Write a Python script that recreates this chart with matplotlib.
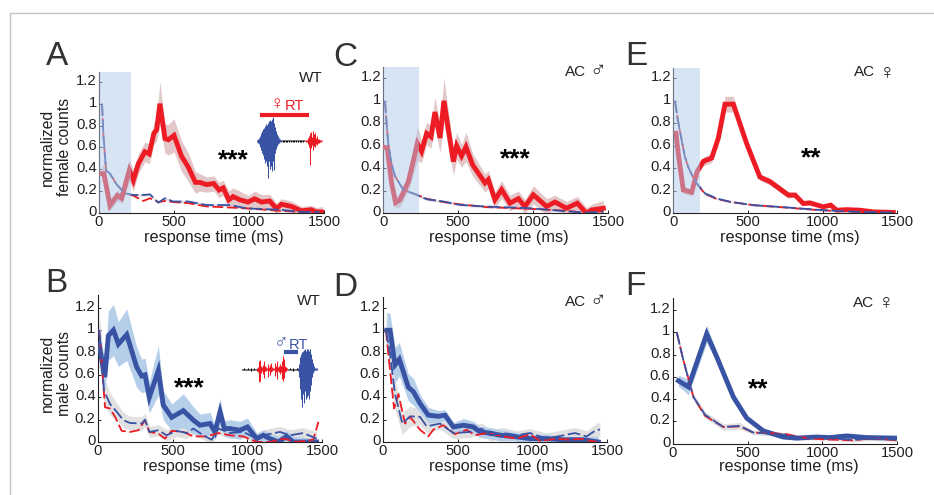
import matplotlib
matplotlib.use("Agg")
import matplotlib.pyplot as plt
from matplotlib.transforms import ScaledTranslation
import numpy as np

plt.rcParams['font.family'] = ['Liberation Sans', 'DejaVu Sans']

RED = "#ed1c24"
BLUE = "#3953a4"
INK = "#231f20"
W, H = 934, 495

# panel A
a_x = [18,33,73,122,151,202,229,262,306,335,366,384,406,440,462,500,550,595,643,672,717,765,800,828,865,894,940,994,1038,1083,1138,1183,1216,1283,1349,1415,1449,1489]
a_y = [.36,.36,.07,.16,.135,.39,.3,.45,.56,.54,.73,.76,1,.68,.67,.71,.52,.42,.28,.28,.26,.27,.21,.23,.12,.15,.12,.1,.13,.1,.11,.04,.08,.06,.02,.03,.01,.01]
a_err = [.07,.08,.05,.05,.05,.1,.1,.09,.09,.09,.1,.1,.2,.13,.14,.15,.14,.13,.1,.08,.07,.07,.07,.07,.08,.08,.08,.06,.07,.07,.06,.05,.05,.05,.04,.04,.04,.05]
a_dash_x = [20,30,47,73,118,173,228,295,340,395,440,495,595,717,872,983,1205,1350,1470]
a_blue = [1,.7,.39,.36,.26,.18,.165,.165,.17,.095,.135,.105,.105,.073,.073,.043,.03,.01,.01]
a_red = [1,.7,.39,.36,.26,.18,.16,.11,.135,.1,.11,.1,.09,.06,.05,.043,.02,.01,.01]

# panel B
b_x = [10,47,71,105,138,194,260,294,316,345,405,438,494,572,639,683,750,783,817,846,884,950,1000,1062,1106,1151,1206,1262,1306,1385,1462]
b_y = [.87,.58,.95,1,.875,.96,.67,.59,.6,.4,.64,.33,.22,.28,.195,.15,.165,.09,.27,.12,.12,.105,.135,.03,.06,.03,0,.05,0,0,0]
b_err = [.2,.12,.22,.23,.2,.23,.18,.15,.15,.14,.22,.13,.12,.15,.12,.1,.1,.06,.12,.07,.08,.08,.08,.05,.05,.05,.05,.05,.05,.04,.04]
b_blue_x = [10,42,82,127,171,216,294,316,345,405,460,527,594,639,705,761,806,884,973,1062,1106,1217,1284,1373,1462]
b_blue = [1,.46,.34,.27,.195,.17,.165,.2,.09,.105,.06,.1,.08,.12,.06,.02,.12,.08,.09,.03,.06,.09,.06,.08,.03]
b_grey = [.2,.12,.1,.08,.07,.06,.06,.06,.05,.05,.05,.05,.05,.05,.04,.04,.05,.05,.05,.05,.05,.05,.05,.05,.06]
b_red_x = [10,49,82,116,160,216,272,316,345,405,450,494,572,639,728,806,884,973,1062,1151,1240,1329,1440,1474]
b_red = [1,.31,.3,.225,.1,.09,.105,.195,.09,.075,.03,.1,.09,.05,.05,.08,.06,.05,0,0,.03,0,.02,.18]

# panel C
c_x = [11,27,55,82,111,167,227,255,289,318,344,378,404,467,489,522,551,596,678,700,744,789,844,900,944,1000,1089,1144,1222,1293,1355,1389,1467]
c_y = [.585,.58,.27,.095,.12,.28,.62,.55,.71,.68,.9,.67,1,.46,.6,.51,.59,.43,.27,.3,.12,.21,.09,.13,.06,.165,.06,.1,.045,.09,0,.03,.045]
c_err = [.02,.03,.05,.05,.06,.08,.15,.1,.1,.1,.13,.13,.2,.12,.12,.1,.13,.1,.08,.08,.07,.08,.07,.07,.06,.08,.07,.06,.06,.06,.05,.05,.07]
c_dash_x = [11,22,33,55,78,133,222,289,400,511,689,978,1200,1355,1467]
c_blue = [1,.8,.62,.44,.33,.21,.165,.125,.105,.075,.06,.045,.02,.005,.015]
c_red = [1,.8,.62,.44,.33,.21,.165,.13,.1,.08,.055,.04,.025,.005,.02]

# panel D
d_x = [27,49,82,111,171,205,249,305,372,416,472,539,605,650,717,784,873,984,1095,1206,1340,1440]
d_y = [1,1,.69,.74,.49,.45,.345,.24,.23,.24,.135,.15,.135,.09,.08,.06,.05,.03,.03,.02,.02,0]
d_err = [.16,.15,.16,.15,.12,.12,.08,.07,.05,.05,.04,.06,.05,.05,.05,.05,.04,.04,.04,.03,.03,.05]
d_blue_x = [22,49,82,131,183,249,294,383,472,583,661,717,806,895,984,1095,1284,1362,1429,1451]
d_blue = [1,.79,.43,.165,.23,.225,.14,.165,.08,.09,.12,.06,.08,.06,.08,.03,.08,.05,.11,.11]
d_grey = [.15,.15,.14,.1,.09,.07,.06,.05,.05,.05,.05,.05,.05,.04,.04,.05,.05,.05,.06,.06]
d_red_x = [22,49,76,105,149,183,249,305,338,405,483,561,617,695,806,895,984,1051,1162,1251,1318,1429]
d_red = [1,.64,.3,.43,.165,.225,.11,.05,.11,.15,.07,.11,.06,.08,.05,.03,.07,.01,.03,.02,.03,0]

# panel E
e_x = [18,33,67,123,160,201,257,301,346,402,491,580,647,770,815,870,915,1004,1054,1094,1161,1250,1339,1473]
e_y = [.71,.53,.205,.185,.37,.46,.49,.665,.97,.97,.62,.32,.28,.16,.16,.085,.09,.055,.07,.025,.03,.025,.01,.005]
e_err = [.02,.03,.03,.03,.03,.04,.04,.03,.07,.07,.03,.03,.03,.03,.02,.02,.02,.01,.01,.01,.01,.01,.01,.01]
e_dash_x = [11,33,56,78,100,128,156,212,290,379,536,759,982,1205,1473]
e_blue = [1,.81,.65,.5,.41,.33,.265,.175,.13,.1,.07,.05,.027,.012,.003]
e_red = [1,.81,.65,.5,.41,.33,.265,.17,.125,.1,.07,.048,.025,.012,.003]

# panel F
f_x = [38,105,227,294,405,494,605,739,828,961,1050,1162,1295,1495]
f_y = [.565,.51,.985,.78,.42,.23,.115,.06,.05,.06,.055,.07,.055,.05]
f_err = [.05,.07,.08,.04,.02,.015,.015,.015,.015,.015,.015,.015,.015,.015]
f_dash_x = [27,71,138,216,338,449,538,650,761,850,983,1206,1340,1495]
f_blue = [1,.75,.42,.26,.15,.16,.1,.09,.08,.055,.055,.035,.05,.035]
f_red = [1,.75,.42,.25,.15,.155,.1,.095,.085,.06,.04,.03,.05,.03]
f_grey = [.02,.02,.03,.03,.03,.03,.02,.02,.02,.02,.02,.02,.02,.02]

# oscillograms in the two insets, half-heights in pixels column by column
fem_blue_up = [1,2,3,5,8,10,12,13,15,17,16,18,20,21,20,22,24,18,14,10,7,5,3,2,1]
fem_blue_dn = [1,2,3,6,9,12,14,18,22,20,25,37,20,28,25,30,20,29,12,8,5,3,2,1,1]
fem_gap = [.5,.8,1,.5,.8,1.2,.5,.8,.5,1,.5,1.2,.8,.5,1,.5,1.2,.5,.8,1,.5,.8,.5]
fem_red_up = [.5,1,1,3,5,8,9,4,10,7,8,3,5,2,2,1,1,.5]
fem_red_dn = [.5,1,1,3,6,24,7,4,9,5,6,3,4,2,2,1,1,.5]
mal_lead = [.5,.8,1,.5,.8,.5,1,.8,.5,1.2,.5,.8,1,.5,.8]
mal_red_up = [1,2,8,9,3,2,4,8,3,2,1,5,2,4,6,2,1,1,6,3,8,2,3,5,3,8,13,10,3,2,1]
mal_red_dn = [2,3,13,12,4,2,5,9,2,2,1,8,2,6,3,2,1,1,7,3,10,2,3,5,3,10,12,9,3,2,1]
mal_gap = [.5,.8,1,.5,.8,1.2,.5,.8,.5,1]
mal_blue_up = [1,5,12,15,17,18,19,20,18,20,20,18,20,15,10,6,3,1,1,1]
mal_blue_dn = [2,8,20,30,38,25,34,22,30,28,26,30,22,16,8,4,2,1,1,1]


def draw_panel(box, top, solid, dashes, grey, color, band, shade=None):
    left, right, ytop, ybot = box
    ax = fig.add_axes([left / W, 1 - ybot / H, (right - left) / W, (ybot - ytop) / H])
    ax.patch.set_alpha(0)
    x, y, err = np.array(solid[0]), np.array(solid[1]), np.array(solid[2])
    bx, by = np.array(dashes[0]), np.array(dashes[1])
    ax.fill_between(bx, by - np.array(grey), by + np.array(grey), color="#dcdcdc", lw=0, alpha=0.85, zorder=1)
    ax.fill_between(x, y - err, y + err, color=band, lw=0, zorder=2)
    ax.plot(x, y, color=color, lw=3.5, solid_joinstyle="miter", zorder=3)
    ax.plot(dashes[2], dashes[3], color=RED, lw=1.3, dashes=(6, 2), zorder=4)
    ax.plot(bx, by, color=BLUE, lw=1.3, dashes=(7, 2), zorder=5)
    if shade:
        ax.axvspan(0, shade, color="#aecbeb", alpha=0.5, lw=0, zorder=6)
    ax.set_xlim(0, 1500)
    ax.set_ylim(0, top)
    ax.set_xticks([0, 500, 1000, 1500])
    ax.set_yticks([0, .2, .4, .6, .8, 1, 1.2])
    ax.set_yticklabels(["0", "0.2", "0.4", "0.6", "0.8", "1", "1.2"])
    ax.tick_params(direction="in", length=2, width=0.7, labelsize=10.6, pad=1.5, colors=INK)
    # the labels sit a little above their ticks in the original
    nudge = ScaledTranslation(0, 0.025, fig.dpi_scale_trans)
    for lab in ax.get_yticklabels():
        lab.set_transform(lab.get_transform() + nudge)
    for side in ("top", "right"):
        ax.spines[side].set_visible(False)
    for side in ("left", "bottom"):
        ax.spines[side].set_linewidth(0.8)
        ax.spines[side].set_color(INK)


def wave(over, x0, y0, up, dn, color):
    xs = x0 + np.arange(len(up))
    over.vlines(xs, y0 - np.array(up), y0 + np.array(dn), color=color, lw=0.75)
    return x0 + len(up)


fig = plt.figure(figsize=(W / 100, H / 100), dpi=100)

draw_panel((99, 324, 72, 213), 1.29, (a_x, a_y, a_err), (a_dash_x, a_blue, a_dash_x, a_red), .012, RED, "#e3c6c8", 213)
draw_panel((97.7, 322.3, 295, 442), 1.314, (b_x, b_y, b_err), (b_blue_x, b_blue, b_red_x, b_red), b_grey, BLUE, "#b5cfeb")
draw_panel((383.3, 608.3, 67.3, 213.3), 1.298, (c_x, c_y, c_err), (c_dash_x, c_blue, c_dash_x, c_red), .012, RED, "#e3c6c8", 238)
draw_panel((382.7, 607.3, 296.7, 442), 1.30, (d_x, d_y, d_err), (d_blue_x, d_blue, d_red_x, d_red), d_grey, BLUE, "#b5cfeb")
draw_panel((673.3, 897.3, 67.7, 213), 1.295, (e_x, e_y, e_err), (e_dash_x, e_blue, e_dash_x, e_red), .008, RED, "#e3c6c8", 176)
draw_panel((672.7, 897.3, 298, 443.7), 1.308, (f_x, f_y, f_err), (f_dash_x, f_blue, f_dash_x, f_red), f_grey, BLUE, "#b5cfeb")

# overlay in reference pixels for the frame, lettering and insets
over = fig.add_axes([0, 0, 1, 1])
over.set_xlim(0, W)
over.set_ylim(H, 0)
over.axis("off")
over.patch.set_alpha(0)

over.plot([9.5, 9.5, W], [H, 13, 13], color="#c4c4c4", lw=1)

for letter, lx, ly in [("A", 56.7, 56.7), ("B", 56, 283), ("C", 345, 57.7), ("D", 345, 287.7), ("E", 636.7, 56.7), ("F", 635.7, 286.7)]:
    over.text(lx, ly, letter, fontsize=24, color="#333333", ha="center", va="center")

for tx, ty in [(214, 237.5), (213, 466), (499, 237.5), (499, 466), (790, 237.5), (789, 466)]:
    over.text(tx, ty, "response time (ms)", fontsize=11.7, color=INK, ha="center", va="center")

over.text(56, 147, "normalized\nfemale counts", rotation=90, fontsize=11.3, color=INK, ha="center", va="center", multialignment="center")
over.text(56, 373, "normalized\nmale counts", rotation=90, fontsize=11.3, color=INK, ha="center", va="center", multialignment="center")

for tx, ty in [(310.7, 77.7), (309, 300.7)]:
    over.text(tx, ty, "WT", fontsize=11, color=INK, ha="center", va="center")

for label, tx, ty, sx in [("♂", 576, 71.7, 598), ("♂", 576, 302, 598), ("♀", 865, 72.3, 887), ("♀", 864, 303, 886)]:
    over.text(tx, ty, "AC", fontsize=11, color=INK, ha="center", va="center")
    over.text(sx, ty, label, fontsize=16, color=INK, ha="center", va="center")

for stars, tx, ty in [("***", 233, 160), ("***", 189, 388), ("***", 515.7, 159), ("**", 811.7, 158), ("**", 758, 389)]:
    over.text(tx, ty, stars, fontsize=19, color="black", fontweight="bold", ha="center", va="center")

# female response inset
end = wave(over, 257, 140.7, fem_blue_up, fem_blue_dn, BLUE)
end = wave(over, end, 140.7, fem_gap, fem_gap, "black")
wave(over, end, 140.7, fem_red_up, fem_red_dn, RED)
over.plot([260, 309], [115, 115], color=RED, lw=3, solid_capstyle="butt")
over.text(277, 105, "♀", fontsize=14, color=RED, ha="center", va="center")
over.text(294, 106, "RT", fontsize=10.5, color=RED, ha="center", va="center")

# male response inset
end = wave(over, 242, 369.3, mal_lead, mal_lead, "black")
end = wave(over, end, 369.3, mal_red_up, mal_red_dn, RED)
end = wave(over, end, 369.3, mal_gap, mal_gap, "black")
wave(over, end, 369.3, mal_blue_up, mal_blue_dn, BLUE)
over.plot([284, 298], [351.7, 351.7], color=BLUE, lw=3, solid_capstyle="butt")
over.text(281, 344, "♂", fontsize=14, color=BLUE, ha="center", va="center")
over.text(298, 344.7, "RT", fontsize=10.5, color=BLUE, ha="center", va="center")

fig.savefig("out.png", dpi=100)
